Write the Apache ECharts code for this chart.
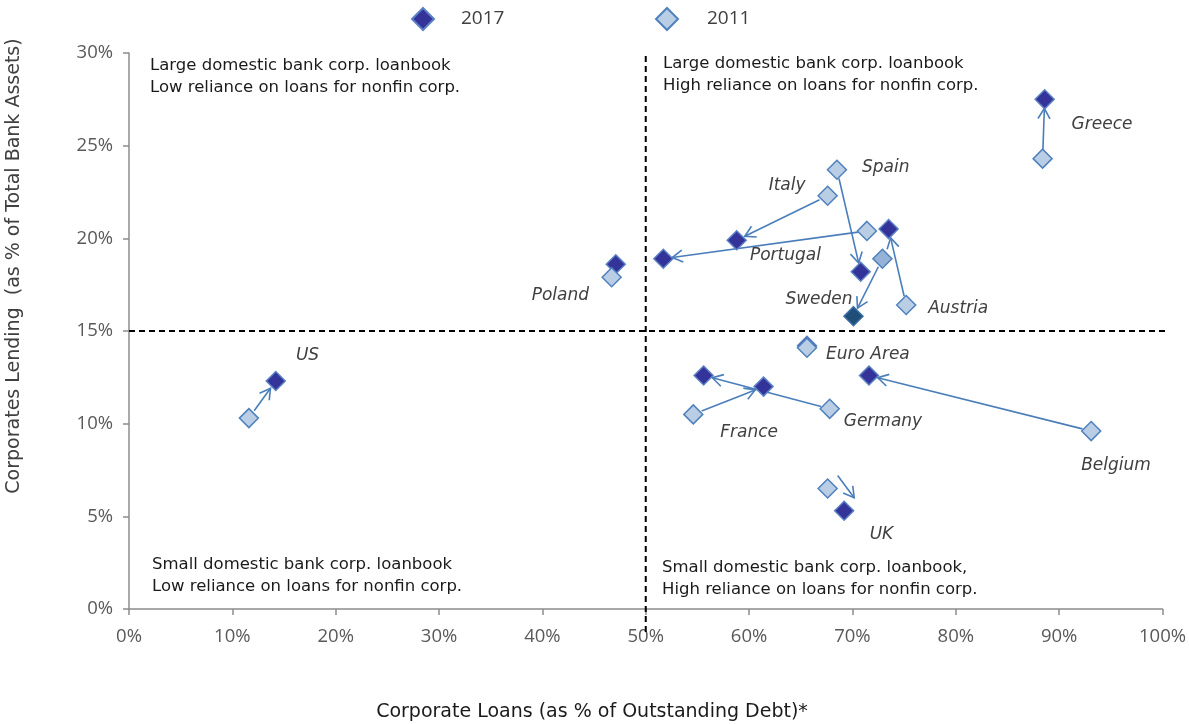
<!DOCTYPE html>
<html>
<head>
<meta charset="utf-8">
<script src="https://cdn.jsdelivr.net/npm/echarts@6/dist/echarts.min.js"></script>
<style>
html,body{margin:0;padding:0;background:#fff;}
#chart{width:1189px;height:724px;}
</style>
</head>
<body>
<div id="chart"></div>
<script>
// ---------- DATA ----------
const countries = ['Greece','Spain','Italy','Portugal','Austria','Sweden','Euro Area','France','Germany','Belgium','UK','Poland','US'];
const loans2011 = [88.4, 68.5, 67.6, 71.4, 75.2, 72.9, 65.6, 54.6, 67.8, 93.1, 67.6, 46.7, 11.6];
const lending2011 = [24.3, 23.7, 22.3, 20.4, 16.4, 18.9, 14.1, 10.5, 10.8, 9.6, 6.5, 17.9, 10.3];
const loans2017 = [88.6, 70.8, 58.8, 51.7, 73.5, 70.1, 65.6, 61.4, 55.6, 71.6, 69.2, 47.1, 14.2];
const lending2017 = [27.5, 18.2, 19.9, 18.9, 20.5, 15.8, 14.2, 12.0, 12.6, 12.6, 5.3, 18.6, 12.3];
const arrowCountries = ['Greece','Spain','Italy','Portugal','Austria','Sweden','France','Germany','Belgium','UK','US'];
const seriesNames = ['2017', '2011'];
const xTickValues = [0,10,20,30,40,50,60,70,80,90,100];
const yTickValues = [0,5,10,15,20,25,30];
const thresholdX = 50;
const thresholdY = 15;
const quadrantTexts = [
  ['Large domestic bank corp. loanbook', 'Low reliance on loans for nonfin corp.'],
  ['Large domestic bank corp. loanbook', 'High reliance on loans for nonfin corp.'],
  ['Small domestic bank corp. loanbook', 'Low reliance on loans for nonfin corp.'],
  ['Small domestic bank corp. loanbook,', 'High reliance on loans for nonfin corp.']
];
const xAxisTitle = 'Corporate Loans (as % of Outstanding Debt)*';
const yAxisTitle = 'Corporates Lending  (as % of Total Bank Assets)';

// ---------- STYLE ----------
const FONT = '"Open Sans", Lato, sans-serif';
const WIDE = '"DejaVu Sans", sans-serif';
const labelOffsets = {
  'Greece':[29,-34], 'Spain':[25,-2], 'Italy':[-59,-10], 'Portugal':[-117,25], 'Austria':[22,4],
  'Sweden':[-97,41], 'Euro Area':[19,7], 'France':[27,18], 'Germany':[14,13], 'Belgium':[-10,34],
  'UK':[42,46], 'Poland':[-80,18], 'US':[47,-63]
};
const arrowShift = { 'UK': {shift:[10,-13], trim:0} };
const special2011 = { 'Sweden': {color:'#95b3d7', borderColor:'#4f81bd', borderWidth:1.5} };
const special2017 = { 'Sweden': {color:'#1f4e79', borderColor:'#3a6ea5', borderWidth:1.5} };

const chart = echarts.init(document.getElementById('chart'), null, {renderer:'canvas'});

function pts(xs, ys, special) {
  return countries.map((c, i) => {
    const d = { name: c, value: [xs[i], ys[i]] };
    if (special && special[c]) d.itemStyle = special[c];
    return d;
  });
}

const data2011 = pts(loans2011, lending2011, special2011).map(d => {
  d.label = { show: true, formatter: d.name, offset: labelOffsets[d.name] };
  return d;
});
const data2017 = pts(loans2017, lending2017, special2017);

const arrowData = arrowCountries.map(c => {
  const i = countries.indexOf(c);
  return { name: c, value: [loans2011[i], lending2011[i], loans2017[i], lending2017[i]] };
});

const option = {
  backgroundColor: '#ffffff',
  animation: false,
  textStyle: { fontFamily: FONT },
  grid: { left: 129, right: 25, top: 53, bottom: 115, containLabel: false },
  legend: [
    { data: [{name: seriesNames[0]}], left: 406, top: 2, icon: 'diamond', itemWidth: 22, itemHeight: 22,
      textStyle: { fontSize: 19, color: '#404040', fontFamily: FONT, padding:[0,0,0,22] } },
    { data: [{name: seriesNames[1]}], left: 650, top: 2, icon: 'diamond', itemWidth: 22, itemHeight: 22,
      textStyle: { fontSize: 19, color: '#404040', fontFamily: FONT, padding:[0,0,0,24] } }
  ],
  xAxis: {
    type: 'value', min: 0, max: 100, interval: 10,
    axisLine: { show: true, onZero: false, lineStyle: { color: '#8c8c8c', width: 1.5 } },
    axisTick: { show: true, length: 6, lineStyle: { color: '#8c8c8c', width: 1.5 } },
    splitLine: { show: false },
    axisLabel: { formatter: v => xTickValues.includes(v) ? v + '%' : '', fontSize: 18.5, color: '#595959', margin: 18, fontFamily: FONT }
  },
  yAxis: {
    type: 'value', min: 0, max: 30, interval: 5,
    axisLine: { show: true, onZero: false, lineStyle: { color: '#8c8c8c', width: 1.5 } },
    axisTick: { show: true, length: 6, lineStyle: { color: '#8c8c8c', width: 1.5 } },
    splitLine: { show: false },
    axisLabel: { formatter: v => yTickValues.includes(v) ? v + '%' : '', fontSize: 18.5, color: '#595959', margin: 16, fontFamily: FONT }
  },
  series: [
    {
      name: 'quadrants', type: 'custom', silent: true, z: 1, clip: false,
      data: [[thresholdX, thresholdY]],
      encode: { x: 0, y: 1 },
      renderItem: function (params, api) {
        const top = api.coord([api.value(0), 30]);
        const bot = api.coord([api.value(0), 0]);
        const left = api.coord([0, api.value(1)]);
        const right = api.coord([100, api.value(1)]);
        const st = { stroke: '#000', lineWidth: 2, lineDash: [6, 4] };
        return { type: 'group', children: [
          { type: 'line', shape: { x1: top[0], y1: top[1] + 3, x2: bot[0], y2: bot[1] + 23 }, style: st },
          { type: 'line', shape: { x1: left[0], y1: left[1], x2: right[0] + 6, y2: right[1] }, style: st }
        ]};
      }
    },
    {
      name: 'arrows', type: 'custom', silent: true, z: 2, clip: false,
      data: arrowData,
      encode: { x: [0, 2], y: [1, 3] },
      renderItem: function (params, api) {
        const name = arrowData[params.dataIndex].name;
        const p0 = api.coord([api.value(0), api.value(1)]);
        const p1 = api.coord([api.value(2), api.value(3)]);
        let trim = 9, sh = [0, 0];
        if (arrowShift[name]) { trim = arrowShift[name].trim; sh = arrowShift[name].shift; }
        const dx = p1[0] - p0[0], dy = p1[1] - p0[1];
        const L = Math.sqrt(dx*dx + dy*dy) || 1;
        const ux = dx / L, uy = dy / L;
        const s = [p0[0] + ux*trim + sh[0], p0[1] + uy*trim + sh[1]];
        const e = [p1[0] - ux*trim + sh[0], p1[1] - uy*trim + sh[1]];
        const hl = 12, ang = Math.PI / 6;
        const cos = Math.cos(ang), sin = Math.sin(ang);
        const bx = -ux, by = -uy;
        const h1 = [e[0] + hl*(bx*cos - by*sin), e[1] + hl*(bx*sin + by*cos)];
        const h2 = [e[0] + hl*(bx*cos + by*sin), e[1] + hl*(-bx*sin + by*cos)];
        const st = { stroke: '#4a7ebb', lineWidth: 1.6, fill: null };
        return { type: 'group', children: [
          { type: 'line', shape: { x1: s[0], y1: s[1], x2: e[0], y2: e[1] }, style: st },
          { type: 'polyline', shape: { points: [h1, e, h2] }, style: st }
        ]};
      }
    },
    {
      name: seriesNames[0], type: 'scatter', symbol: 'diamond', symbolSize: 19, z: 3,
      itemStyle: { color: '#333399', borderColor: '#5b80c4', borderWidth: 1.5, opacity: 1 },
      data: data2017
    },
    {
      name: seriesNames[1], type: 'scatter', symbol: 'diamond', symbolSize: 19, z: 4,
      itemStyle: { color: '#b9cde5', borderColor: '#4f81bd', borderWidth: 1.5, opacity: 1 },
      label: { show: true, position: 'inside', align: 'left', verticalAlign: 'middle',
               fontSize: 17, fontStyle: 'italic', color: '#404040', fontFamily: WIDE },
      data: data2011
    }
  ],
  graphic: [
    { type: 'text', left: 150, top: 55, style: { text: quadrantTexts[0].join('\n'), fontSize: 16.5, lineHeight: 22, fill: '#1a1a1a', fontFamily: WIDE } },
    { type: 'text', left: 663, top: 53, style: { text: quadrantTexts[1].join('\n'), fontSize: 16.5, lineHeight: 22, fill: '#1a1a1a', fontFamily: WIDE } },
    { type: 'text', left: 152, top: 554, style: { text: quadrantTexts[2].join('\n'), fontSize: 16.5, lineHeight: 22, fill: '#1a1a1a', fontFamily: WIDE } },
    { type: 'text', left: 662, top: 557, style: { text: quadrantTexts[3].join('\n'), fontSize: 16.5, lineHeight: 22, fill: '#1a1a1a', fontFamily: WIDE } },
    { type: 'text', x: 592, y: 712, style: { text: xAxisTitle, fontSize: 19, fill: '#1a1a1a', align: 'center', verticalAlign: 'middle', fontFamily: WIDE } },
    { type: 'text', x: 14, y: 266, rotation: Math.PI / 2, style: { text: yAxisTitle, fontSize: 19, fill: '#404040', align: 'center', verticalAlign: 'middle', fontFamily: WIDE } }
  ]
};
chart.setOption(option);
if (document.fonts && document.fonts.load) {
  Promise.all([
    document.fonts.load('18px "Open Sans"'),
    document.fonts.load('17px "DejaVu Sans"'),
    document.fonts.load('italic 17px "DejaVu Sans"')
  ]).then(() => { chart.setOption(option, true); }).catch(() => {});
}
</script>
</body>
</html>
